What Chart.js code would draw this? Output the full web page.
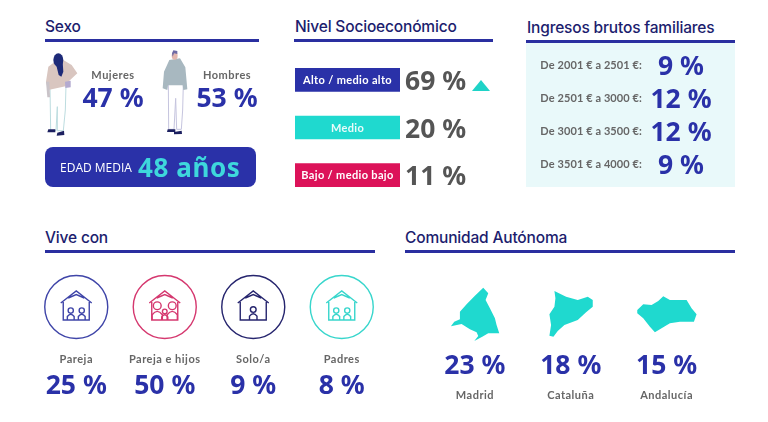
<!DOCTYPE html>
<html lang="es">
<head>
<meta charset="utf-8">
<title>Perfil</title>
<script src="https://cdn.jsdelivr.net/npm/chart.js@4"></script>
<style>
    html, body { margin: 0; background: #fff; }
    #page { position: relative; width: 768px; height: 422px; overflow: hidden; }
    canvas { position: absolute; left: 0; top: 0; }
    .title { position: absolute; font: 500 15.5px Inter, sans-serif; letter-spacing: -0.17px; color: #1c1d6e; white-space: nowrap; }
    .rule { position: absolute; height: 3px; background: #2a2fa0; }
    #panel { position: absolute; left: 526px; top: 42px; width: 209px; height: 145px; background: #e9f9fa; }
</style>
</head>
<body>
<div id="page">
    <div id="panel"></div>
    <div class="title" style="left:45px;top:17px">Sexo</div>
    <div class="rule" style="left:45px;top:39px;width:214px"></div>
    <div class="title" style="left:295px;top:17px">Nivel Socioeconómico</div>
    <div class="rule" style="left:294px;top:39px;width:199px"></div>
    <div class="title" style="left:527px;top:18px">Ingresos brutos familiares</div>
    <div class="rule" style="left:526px;top:40px;width:209px"></div>
    <div class="title" style="left:45px;top:228px">Vive con</div>
    <div class="rule" style="left:45px;top:250px;width:330px"></div>
    <div class="title" style="left:405px;top:228px">Comunidad Autónoma</div>
    <div class="rule" style="left:405px;top:250px;width:330px"></div>
</div>
<script>
const sexoLabels = ['Mujeres', 'Hombres']
const sexoValues = [47, 53]
const edadMedia = 48

const nivelLabels = ['Alto / medio alto', 'Medio', 'Bajo / medio bajo']
const nivelValues = [69, 20, 11]
const nivelBadges = [1, 1, 1]
const nivelColors = ['#2a31a8', '#1fd9cf', '#dc1259']

const ingresosLabels = ['De 2001 € a 2501 €:', 'De 2501 € a 3000 €:', 'De 3001 € a 3500 €:', 'De 3501 € a 4000 €:']
const ingresosValues = [9, 12, 12, 9]

const viveLabels = ['Pareja', 'Pareja e hijos', 'Solo/a', 'Padres']
const viveValues = [25, 50, 9, 8]
const viveColors = ['#3f45a8', '#d5386f', '#26256e', '#38d6cc']
const vivePeople = [[[-5.5, 1], [5.5, 1]], [[-7.5, 1.5], [0, 0.9], [7.5, 1.5]], [[0, 1.1]], [[-5.5, 1], [5.5, 1]]]

const comunidadLabels = ['Madrid', 'Cataluña', 'Andalucía']
const comunidadValues = [23, 18, 15]

// map outlines, traced in 3x crop pixels
const comunidadShapes = [
    [[265,188],[280,205],[272,225],[285,250],[300,280],[305,300],[313,325],[280,325],[262,335],[238,348],[250,333],[245,322],[225,313],[200,297],[168,304],[178,290],[195,283],[195,260],[215,238],[240,212]],
    [[475,198],[510,215],[545,225],[575,215],[590,225],[590,245],[570,262],[545,285],[505,300],[485,318],[472,335],[460,332],[465,300],[460,268],[475,245],[478,220]],
    [[727,255],[745,238],[770,240],[790,228],[805,214],[825,225],[875,225],[890,250],[905,268],[897,290],[855,290],[825,295],[800,310],[780,322],[765,305],[745,280],[727,265]]
]
const comunidadShapeCenters = [240, 524, 815]

const BLUE = '#2a31a8'
const GRAY = '#666'
const NUMBER_FONT = 'bold 26.5px "Noto Sans", sans-serif'
const SMALL_FONT = 'bold 11px Lato, sans-serif'

function text(ctx, str, x, y, font, color, align, spacing) {
    ctx.font = font
    ctx.fillStyle = color
    ctx.textAlign = align || 'center'
    ctx.textBaseline = 'alphabetic'
    ctx.letterSpacing = spacing || '0px'
    ctx.fillText(str, x, y)
    ctx.letterSpacing = '0px'
}

function poly(ctx, pts, fill, stroke, width) {
    ctx.beginPath()
    pts.forEach((p, i) => i ? ctx.lineTo(p[0], p[1]) : ctx.moveTo(p[0], p[1]))
    ctx.closePath()
    if (fill) { ctx.fillStyle = fill; ctx.fill() }
    if (stroke) { ctx.strokeStyle = stroke; ctx.lineWidth = width; ctx.stroke() }
}

function drawWoman(ctx, x) {
    ctx.save()
    ctx.translate(x - 83, 10)
    ctx.scale(1 / 3, 1 / 3)
    poly(ctx, [[60,232],[108,225],[106,300],[100,362],[82,362],[82,290],[78,362],[62,362]], '#fff', '#bcdcdf', 3)
    poly(ctx, [[75,155],[55,170],[48,215],[55,240],[110,228],[118,212],[142,190],[125,165],[100,150]], '#d9c6c0')
    poly(ctx, [[48,215],[58,215],[60,262],[52,262]], '#c9c3c8')
    poly(ctx, [[105,215],[122,212],[122,232],[106,234]], '#b3aad0')
    ctx.fillStyle = '#1d2a78'
    ctx.beginPath()
    ctx.ellipse(85, 150, 15, 20, 0, 0, Math.PI * 2)
    ctx.fill()
    poly(ctx, [[72,155],[98,155],[100,185],[94,200],[86,195],[80,170]], '#1d2a78')
    poly(ctx, [[55,358],[76,358],[76,367],[52,367]], '#1c2060')
    poly(ctx, [[82,368],[102,362],[103,375],[80,377]], '#1c2060')
    ctx.restore()
}

function drawMan(ctx, x) {
    ctx.save()
    ctx.translate(x - 197, 10)
    ctx.scale(1 / 3, 1 / 3)
    poly(ctx, [[415,222],[460,222],[458,300],[454,358],[440,358],[437,265],[432,358],[416,358]], '#fff', '#c5c4de', 3)
    poly(ctx, [[418,150],[450,145],[466,172],[472,238],[460,240],[458,226],[414,226],[412,240],[398,235],[402,185]], '#a8b8c0')
    ctx.fillStyle = '#e3b7ae'
    ctx.beginPath()
    ctx.ellipse(434, 137, 9, 12, 0, 0, Math.PI * 2)
    ctx.fill()
    poly(ctx, [[426,130],[430,121],[442,123],[442,132],[432,130],[428,140]], '#6d6aa5')
    poly(ctx, [[413,358],[436,358],[436,366],[411,366]], '#1c2060')
    poly(ctx, [[432,366],[455,362],[456,372],[432,373]], '#1c2060')
    ctx.restore()
}

function drawHouse(ctx, x, y, color, people) {
    ctx.strokeStyle = color
    ctx.lineWidth = 1.4
    ctx.beginPath()
    ctx.arc(x, y, 31.5, 0, Math.PI * 2)
    ctx.stroke()
    ctx.lineWidth = 1.4
    ctx.beginPath()
    ctx.moveTo(x - 15.5, y - 4)
    ctx.lineTo(x, y - 16)
    ctx.lineTo(x + 15.5, y - 4)
    ctx.moveTo(x - 8, y - 9)
    ctx.lineTo(x, y - 12.5)
    ctx.lineTo(x + 8, y - 9)
    ctx.moveTo(x - 13, y - 5)
    ctx.lineTo(x - 13, y + 13)
    ctx.lineTo(x + 13, y + 13)
    ctx.lineTo(x + 13, y - 5)
    ctx.stroke()
    people.forEach(p => {
        const px = x + p[0]
        const s = p[1]
        ctx.beginPath()
        ctx.arc(px, y + 13 - 9.5 * s, 2.6 * s, 0, Math.PI * 2)
        ctx.moveTo(px - 3.4 * s, y + 13)
        ctx.lineTo(px - 3.4 * s, y + 13 - 3.5 * s)
        ctx.quadraticCurveTo(px, y + 13 - 8 * s, px + 3.4 * s, y + 13 - 3.5 * s)
        ctx.lineTo(px + 3.4 * s, y + 13)
        ctx.stroke()
    })
}

function addChart(o) {
    const canvas = document.createElement('canvas')
    canvas.width = 768
    canvas.height = 422
    document.getElementById('page').appendChild(canvas)
    const horizontal = o.horizontal
    const valueScale = { display: false, min: 0, max: o.max }
    const catScale = { display: false }
    return new Chart(canvas, {
        type: 'bar',
        data: {
            labels: o.labels,
            datasets: [{
                data: o.data,
                backgroundColor: o.colors || 'rgba(0,0,0,0)',
                barThickness: o.thickness || 10,
            }]
        },
        options: {
            indexAxis: horizontal ? 'y' : 'x',
            animation: false,
            responsive: false,
            layout: {
                padding: { left: o.area[0], top: o.area[1], right: 768 - o.area[2], bottom: 422 - o.area[3] }
            },
            plugins: { legend: { display: false }, tooltip: { enabled: false } },
            scales: horizontal ? { x: valueScale, y: catScale } : { x: catScale, y: valueScale }
        },
        plugins: [{
            id: 'labels',
            afterDatasetsDraw(chart) {
                o.draw(chart.ctx, chart.getDatasetMeta(0).data)
            }
        }]
    })
}

// Sexo
addChart({
    labels: sexoLabels, data: sexoValues, max: 100, area: [56, 50, 284, 140],
    draw(ctx, els) {
        drawWoman(ctx, els[0].x)
        drawMan(ctx, els[1].x)
        els.forEach((el, i) => {
            text(ctx, sexoLabels[i], el.x, 79, SMALL_FONT, GRAY, 'center', '0.5px')
            text(ctx, sexoValues[i] + ' %', el.x, 107, NUMBER_FONT, BLUE)
        })
        ctx.fillStyle = BLUE
        ctx.beginPath()
        ctx.roundRect(45, 147, 211, 40, 8)
        ctx.fill()
        text(ctx, 'EDAD MEDIA', 60, 172, '500 12px "Open Sans", sans-serif', '#fff', 'left')
        text(ctx, edadMedia + ' años', 138, 177, 'bold 26px "Noto Sans", sans-serif', '#3ed7dc', 'left', '0.6px')
    }
})

// Nivel socioeconomico
addChart({
    labels: nivelLabels, data: nivelBadges, max: 1, horizontal: true, colors: nivelColors, thickness: 23,
    area: [295, 56, 400, 199],
    draw(ctx, els) {
        els.forEach((el, i) => {
            text(ctx, nivelLabels[i], 347.5, el.y + 4, 'bold 11px Lato, sans-serif', i == 1 ? '#e8fbfa' : '#fff', 'center', '0.35px')
            text(ctx, nivelValues[i] + ' %', el.x + 5, el.y + 10, NUMBER_FONT, '#555', 'left')
        })
        poly(ctx, [[472, 91], [490, 91], [481, 80]], '#1fd3c7')
    }
})

// Ingresos
addChart({
    labels: ingresosLabels, data: ingresosValues, max: 100, horizontal: true,
    area: [526, 49, 735, 181],
    draw(ctx, els) {
        els.forEach((el, i) => {
            text(ctx, ingresosLabels[i], 642, el.y + 3, 'bold 11px Lato, sans-serif', GRAY, 'right', '0.1px')
            text(ctx, ingresosValues[i] + ' %', 681, el.y + 9.5, NUMBER_FONT, BLUE)
        })
    }
})

// Vive con
addChart({
    labels: viveLabels, data: viveValues, max: 100, area: [32, 270, 386, 400],
    draw(ctx, els) {
        els.forEach((el, i) => {
            drawHouse(ctx, el.x, 307, viveColors[i], vivePeople[i])
            text(ctx, viveLabels[i], el.x, 363, SMALL_FONT, GRAY, 'center', '0.5px')
            text(ctx, viveValues[i] + ' %', el.x, 394, NUMBER_FONT, BLUE)
        })
    }
})

// Comunidad
addChart({
    labels: comunidadLabels, data: comunidadValues, max: 100, area: [427, 270, 714.5, 400],
    draw(ctx, els) {
        els.forEach((el, i) => {
            const pts = comunidadShapes[i].map(p => [el.x + (p[0] - comunidadShapeCenters[i]) / 3, 225 + p[1] / 3])
            poly(ctx, pts, '#1fd9cf')
            text(ctx, comunidadValues[i] + ' %', el.x, 374, NUMBER_FONT, BLUE)
            text(ctx, comunidadLabels[i], el.x, 399, SMALL_FONT, GRAY, 'center', '0.5px')
        })
    }
})
</script>
</body>
</html>
